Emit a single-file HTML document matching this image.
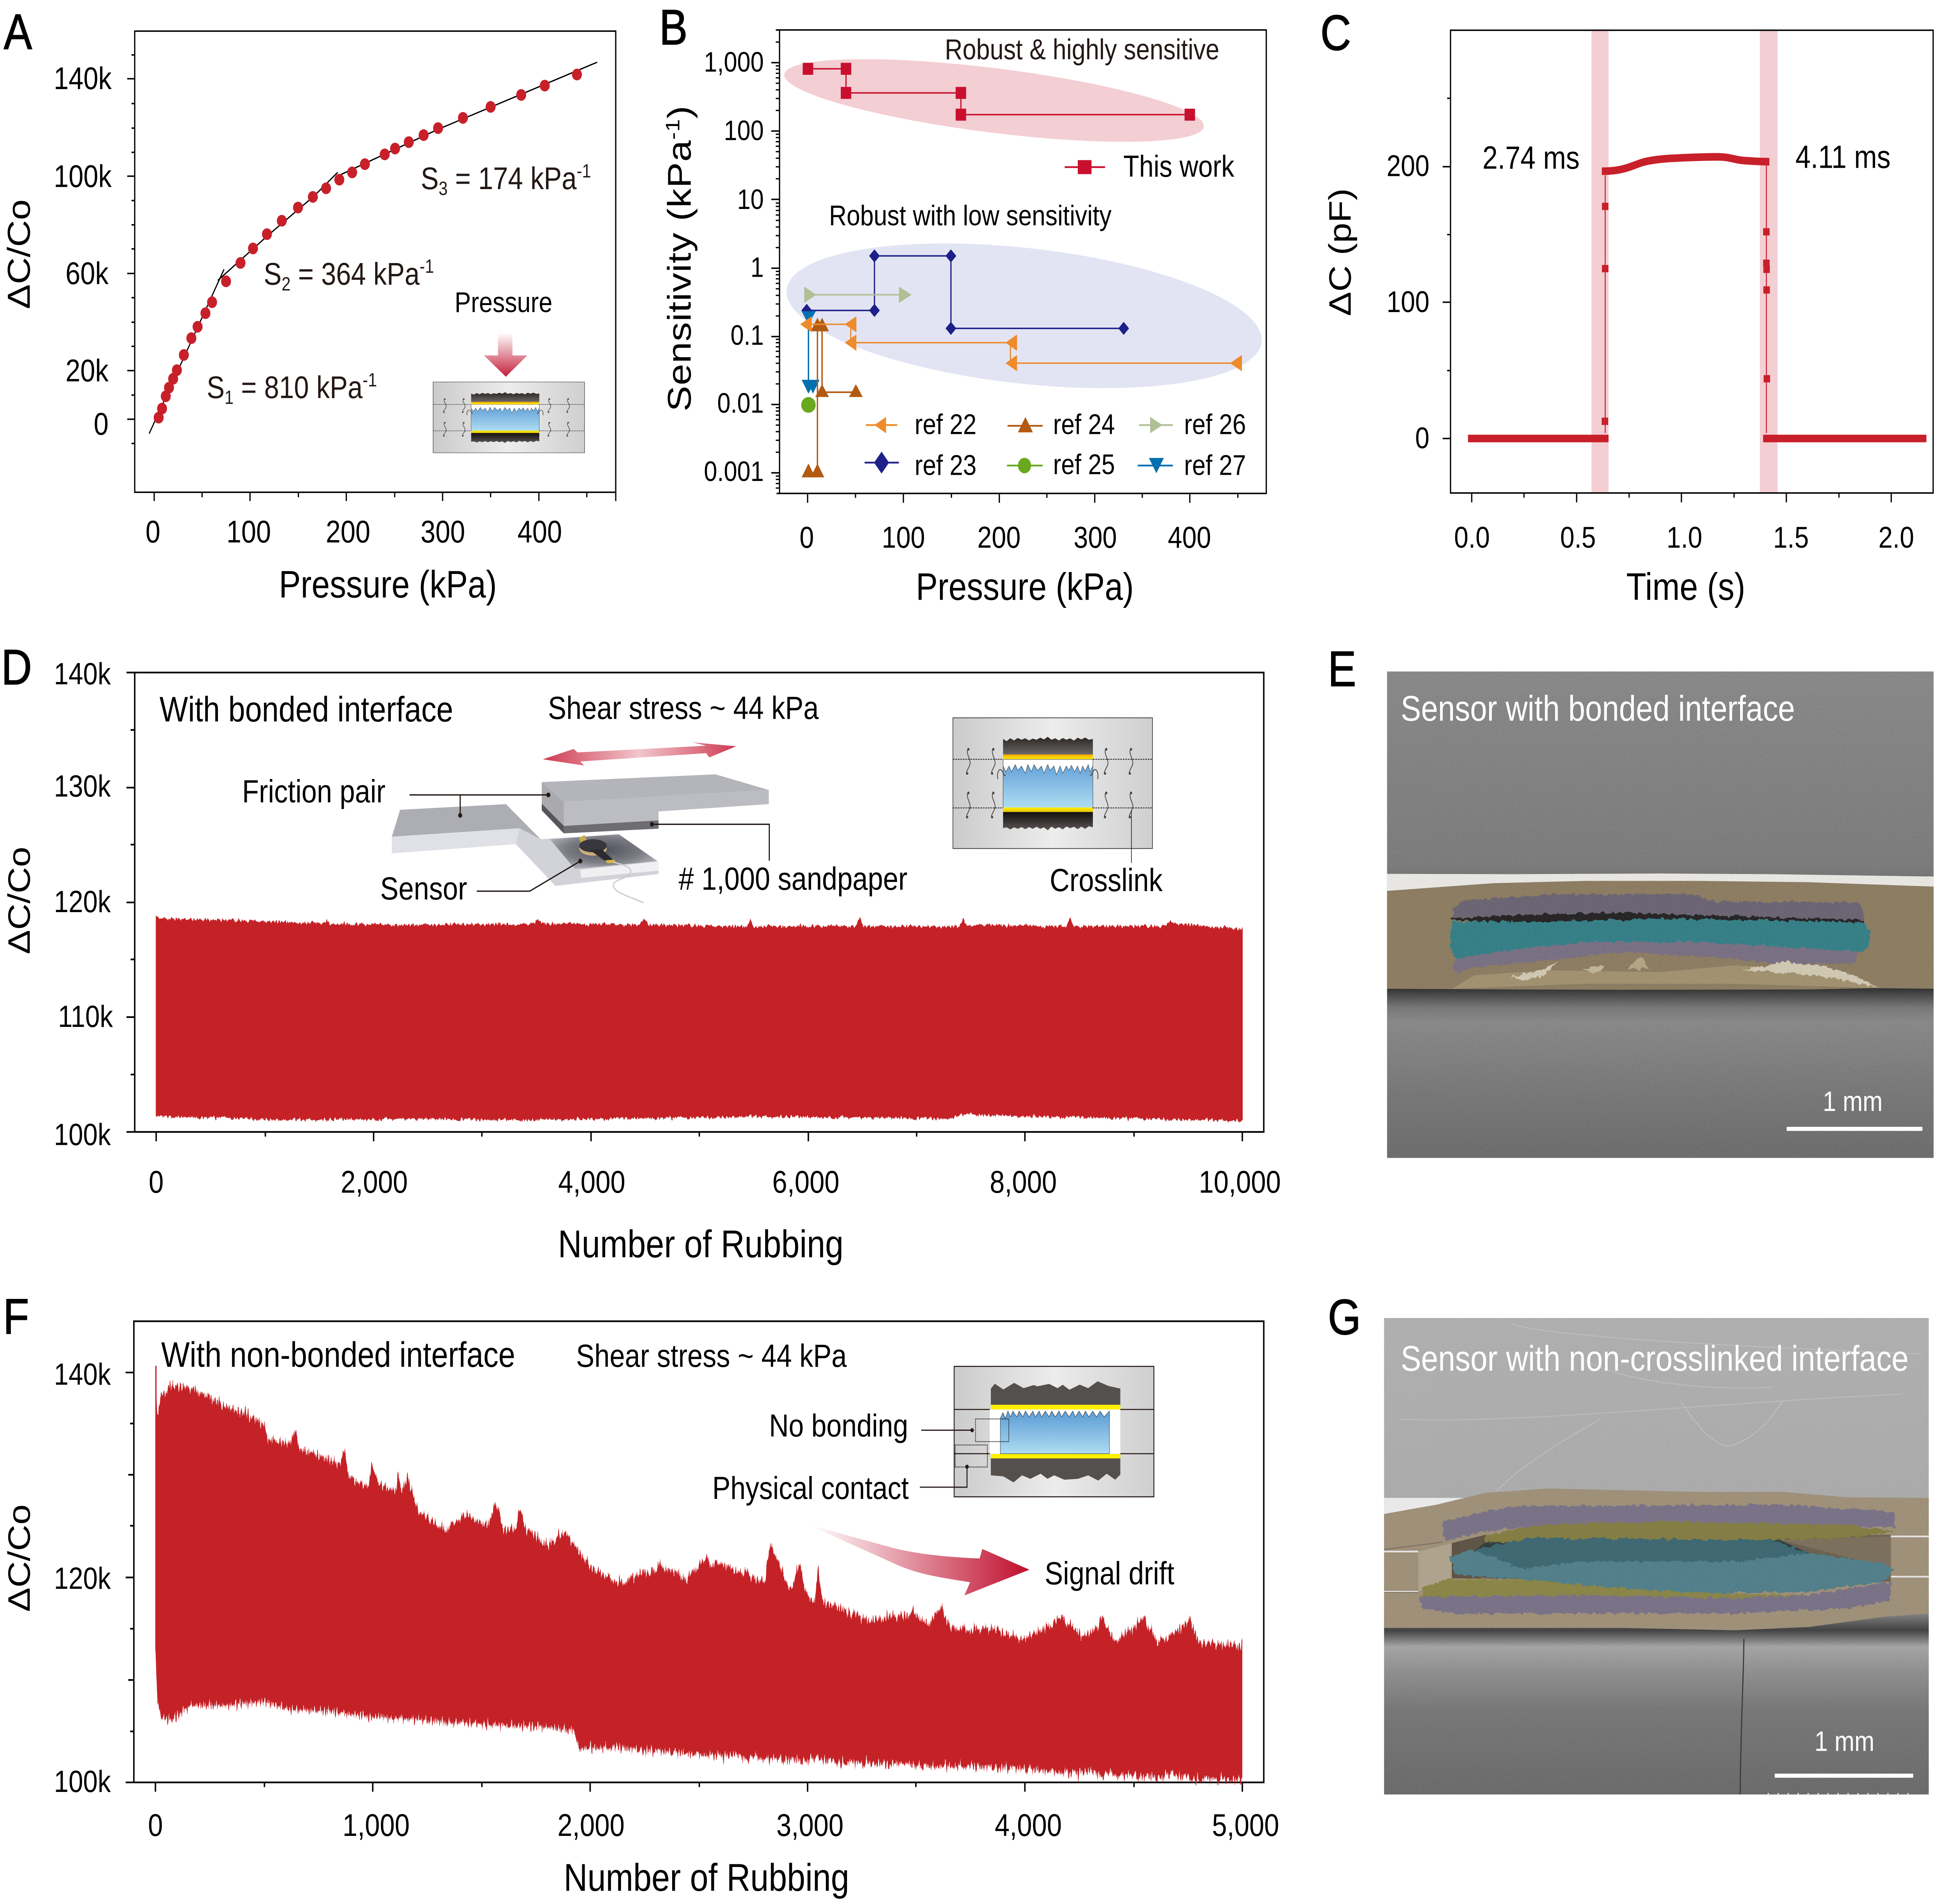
<!DOCTYPE html>
<html><head><meta charset="utf-8"><title>Sensor figure</title>
<style>html,body{margin:0;padding:0;background:#fff;overflow:hidden}svg{display:block;position:absolute;left:0;top:0;width:100vw;height:100vh}text{font-family:"Liberation Sans",sans-serif}</style></head>
<body>
<svg xmlns="http://www.w3.org/2000/svg" viewBox="0 0 1560 1303.45" preserveAspectRatio="none">
<defs>
<linearGradient id="ig"><stop offset="0" stop-color="#cbcbcb"/><stop offset=".5" stop-color="#ececec"/><stop offset="1" stop-color="#cfcfcf"/></linearGradient>
<linearGradient id="dt" x2="0" y2="1"><stop offset="0" stop-color="#2a2624"/><stop offset="1" stop-color="#6a6664"/></linearGradient>
<linearGradient id="db" x2="0" y2="1"><stop offset="0" stop-color="#141010"/><stop offset="1" stop-color="#5a5654"/></linearGradient>
<linearGradient id="yt" x2="0" y2="1"><stop offset="0" stop-color="#f5a500"/><stop offset="1" stop-color="#fff200"/></linearGradient>
<linearGradient id="yb" x2="0" y2="1"><stop offset="0" stop-color="#fff200"/><stop offset="1" stop-color="#e6c000"/></linearGradient>
<linearGradient id="bl" x2="0" y2="1"><stop offset="0" stop-color="#5b9bd5"/><stop offset="1" stop-color="#aedcf2"/></linearGradient>
<linearGradient id="pa" x2="0" y2="1"><stop offset="0" stop-color="#fff"/><stop offset="1" stop-color="#c4203c"/></linearGradient>
<linearGradient id="da"><stop offset="0" stop-color="#cf3a52"/><stop offset=".5" stop-color="#f1c6cc"/><stop offset="1" stop-color="#cf3a52"/></linearGradient>
<linearGradient id="sa" gradientUnits="userSpaceOnUse" x1="650" y1="0" x2="825" y2="0"><stop offset="0" stop-color="#fff"/><stop offset="1" stop-color="#c00f2d"/></linearGradient>
<radialGradient id="rec" cx=".5" cy=".45" r=".6"><stop offset="0" stop-color="#50505a"/><stop offset=".6" stop-color="#7c7c84"/><stop offset="1" stop-color="#b4b4bc"/></radialGradient>
<linearGradient id="ebg" x2="0" y2="1"><stop offset="0" stop-color="#8a8a8a"/><stop offset=".4" stop-color="#7c7c7c"/><stop offset=".652" stop-color="#2b2b2b"/><stop offset=".69" stop-color="#777"/><stop offset=".72" stop-color="#8a8a8a"/><stop offset=".88" stop-color="#767676"/><stop offset="1" stop-color="#6c6c6c"/></linearGradient>
<linearGradient id="gbg" x2="0" y2="1"><stop offset="0" stop-color="#b4b4b4"/><stop offset=".6" stop-color="#acacac"/><stop offset=".655" stop-color="#3e3e3e"/><stop offset=".69" stop-color="#a8a8a8"/><stop offset=".74" stop-color="#929292"/><stop offset=".82" stop-color="#787878"/><stop offset="1" stop-color="#6a6a6a"/></linearGradient>
<linearGradient id="cav" x2="1"><stop offset="0" stop-color="#5a5040"/><stop offset="1" stop-color="#6f6350"/></linearGradient>
<filter id="jagF" x="-1%" y="-3%" width="102%" height="106%" color-interpolation-filters="sRGB"><feTurbulence type="fractalNoise" baseFrequency="0.9 0.006" numOctaves="3" seed="4"/><feColorMatrix type="matrix" values="1 0 0 0 0 0 1 0 0 0 0 0 0 0 .5 0 0 0 0 1" result="n"/><feDisplacementMap in="SourceGraphic" in2="n" scale="15" xChannelSelector="B" yChannelSelector="R"/></filter>
<filter id="jagD" x="-1%" y="-3%" width="102%" height="106%" color-interpolation-filters="sRGB"><feTurbulence type="fractalNoise" baseFrequency="0.7 0.01" numOctaves="2" seed="9"/><feColorMatrix type="matrix" values="1 0 0 0 0 0 1 0 0 0 0 0 0 0 .5 0 0 0 0 1" result="n"/><feDisplacementMap in="SourceGraphic" in2="n" scale="5" xChannelSelector="B" yChannelSelector="R"/></filter>
<filter id="rough" x="-3%" y="-10%" width="106%" height="120%" color-interpolation-filters="sRGB"><feTurbulence type="fractalNoise" baseFrequency="0.25" numOctaves="3" seed="2"/><feDisplacementMap in="SourceGraphic" scale="4" xChannelSelector="R" yChannelSelector="G"/></filter>
<filter id="grain" x="0" y="0" width="100%" height="100%" color-interpolation-filters="sRGB"><feTurbulence type="fractalNoise" baseFrequency="0.9" numOctaves="2" seed="7"/><feColorMatrix type="matrix" values=".33 .33 .33 0 0 .33 .33 .33 0 0 .33 .33 .33 0 0 0 0 0 0 1"/></filter>
<clipPath id="ce"><rect x="1111.9" y="459.7" width="438.2" height="333"/></clipPath>
<clipPath id="cg"><rect x="1109.5" y="902.3" width="436.7" height="326.2"/></clipPath>
<g id="sq"><path d="M1 0c-3 4 3 8 1 12s-3 4-2 6" fill="none" stroke="#444" stroke-width=".6"/><circle cx="1" cy="1" r=".9" fill="#444"/><circle cx="0" cy="17.5" r=".9" fill="#444"/></g>
<g id="ins">
<rect width="160" height="89.5" fill="url(#ig)" stroke="#333" stroke-width=".5"/>
<polygon points="40.2,14.5 43,16 46,14 49,15.5 52,13.8 55,15 58,14 61,15.5 64,14.2 67,15 70,13.6 73,14.8 76,13 79,15 82,14 85,15.5 88,13.8 91,15 94,14 97,15.6 100,13.6 103,14.8 106,13.5 109,15 112.2,14.5 112.2,25.1 40.2,25.1" fill="url(#dt)"/>
<rect x="40.2" y="25.1" width="72" height="3.3" fill="url(#yt)"/>
<rect x="40.2" y="28.4" width="72" height="33" fill="url(#bl)"/>
<path d="M40.2 28.4H112.2V33L110 37 108.5 32 106 36.5 104 33 102 38 100 33 97.5 37 95 32.5 93 36 91 33 88 38 86 33 83 39 81 33 78 36 76 32 73 38 71 33 68 36 65 32 63 37 60 32 58 38 55 33 52 36 50 32 47 37 45 33 42.5 37 40.2 33Z" fill="#fff" stroke="#222" stroke-width=".25"/>
<rect x="40.2" y="61.4" width="72" height="3.1" fill="url(#yb)"/>
<polygon points="40.2,64.5 112.2,64.5 112.2,75 109,74.2 106,76 103,74.5 100,76.2 97,74.6 94,75.6 91,74.4 88,76.4 85,74.8 82,76 79,74.5 76,77 73,75 70,76 67,74.6 64,76 61,74.8 58,76.2 55,74.8 52,76 49,75 46,76.4 43,75 40.2,75.5" fill="url(#db)"/>
<path d="M40.2 29V62M112.2 29V62" stroke="#333" stroke-width=".3"/>
<path d="M0 28.4H40.2M112.2 28.4H160M0 61.7H40.2M112.2 61.7H160" stroke="#111" stroke-width=".55" stroke-dasharray="1.3 .7" fill="none"/>
<use href="#sq" x="11.4" y="20.6"/><use href="#sq" x="31.4" y="20.6"/><use href="#sq" x="121.9" y="20.6"/><use href="#sq" x="141.8" y="20.6"/>
<use href="#sq" x="11.4" y="50.5"/><use href="#sq" x="31.4" y="50.5"/><use href="#sq" x="121.9" y="50.5"/><use href="#sq" x="141.8" y="50.5"/>
<path d="M36 42c-1-4 1-8 3-6s2 5 3 3M116 42c1-4-1-8-3-6s-2 5-3 3" fill="none" stroke="#444" stroke-width=".6"/>
</g>
<path id="dec" d="M624.9 -14.1h-3M624.9 -22.3h-3M624.9 -28.2h-3M624.9 -32.7h-3M624.9 -36.4h-3M624.9 -39.5h-3M624.9 -42.3h-3M624.9 -44.6h-3" stroke="#000" stroke-width=".9" fill="none"/>
</defs>
<rect width="1560" height="1303.45" fill="#fff"/>

<!-- Panel letters -->
<g font-size="34" stroke="#000" stroke-width=".5" fill="#000">
<text x="3" y="33.6">A</text><text x="528.5" y="30.3">B</text><text x="1058.5" y="34.2">C</text>
<text x="1" y="468.5">D</text><text x="1064.5" y="469.6">E</text><text x="2.5" y="913">F</text><text x="1064.5" y="913.5">G</text>
</g>

<!-- ============ A ============ -->
<g fill="none" stroke="#000" stroke-width="1">
<rect x="108" y="21.3" width="385.6" height="315.7"/>
<path d="M123.6 337v6M200.4 337v6M277.6 337v6M354.8 337v6M432 337v6M493.6 337v6M162 337v3.4M239.2 337v3.4M316.4 337v3.4M393.3 337v3.4M470.4 337v3.4"/>
<path d="M108 53.9h-6M108 120.6h-6M108 187.2h-6M108 253.7h-6M108 287h-6M108 37.6h-2.6M108 70.9h-2.6M108 87.7h-2.6M108 104.3h-2.6M108 137.3h-2.6M108 153.9h-2.6M108 170.4h-2.6M108 203.8h-2.6M108 220.6h-2.6M108 237.1h-2.6M108 270.5h-2.6M108 303.6h-2.6"/>
</g>
<g font-size="21.4" text-anchor="end"><text x="89.5" y="61">140k</text><text x="89.5" y="128">100k</text><text x="87" y="194.5">60k</text><text x="87" y="261">20k</text><text x="87" y="297.5">0</text></g>
<g font-size="21.4" text-anchor="middle"><text x="122.6" y="371.4">0</text><text x="199.4" y="371.4">100</text><text x="279" y="371.4">200</text><text x="355" y="371.4">300</text><text x="432.7" y="371.4">400</text></g>
<text x="223.6" y="409" font-size="26.2">Pressure (kPa)</text>
<text transform="translate(23.9 211.6) rotate(-90)" font-size="25.5">ΔC/Co</text>
<g fill="none" stroke="#000" stroke-width=".9"><path d="M119.6 296.8L179.6 184.4"/><path d="M174.6 192L215 161L252 134L270.7 118"/><path d="M270 120.8L351 88.6L478.7 42.6"/></g>
<g fill="#c8202a">
<circle cx="127.2" cy="285.9" r="4"/><circle cx="129.9" cy="279.7" r="4"/><circle cx="132.9" cy="271.3" r="4"/><circle cx="135.5" cy="265.4" r="4"/><circle cx="138.8" cy="259.3" r="4"/><circle cx="141.8" cy="253.4" r="4"/><circle cx="147.4" cy="243" r="4"/><circle cx="153.4" cy="231.5" r="4"/><circle cx="158.4" cy="223.7" r="4"/><circle cx="164.7" cy="214.4" r="4"/><circle cx="170" cy="206.9" r="4"/><circle cx="181.2" cy="192.6" r="4"/><circle cx="192.8" cy="180" r="4"/><circle cx="202.8" cy="170.1" r="4"/><circle cx="214" cy="160.3" r="4"/><circle cx="225.9" cy="151.1" r="4"/><circle cx="238.9" cy="142.1" r="4"/><circle cx="250.8" cy="134.8" r="4"/><circle cx="261.4" cy="128.9" r="4"/><circle cx="272" cy="123" r="4"/><circle cx="282.3" cy="118" r="4"/><circle cx="292.5" cy="112.4" r="4"/><circle cx="308.4" cy="105.7" r="4"/><circle cx="316.7" cy="101.7" r="4"/><circle cx="327.7" cy="97.3" r="4"/><circle cx="339.6" cy="92.5" r="4"/><circle cx="351.2" cy="87.7" r="4"/><circle cx="371.1" cy="80.7" r="4"/><circle cx="393.3" cy="73.2" r="4"/><circle cx="417.8" cy="65" r="4"/><circle cx="436.7" cy="58.6" r="4"/><circle cx="462.5" cy="51" r="4"/>
</g>
<g font-size="21.5" fill="#231815">
<text x="165.7" y="272.5">S<tspan font-size="13" dy="4">1</tspan><tspan dy="-4"> = 810 kPa</tspan><tspan font-size="13" dy="-8">-1</tspan></text>
<text x="211.4" y="194.8">S<tspan font-size="13" dy="4">2</tspan><tspan dy="-4"> = 364 kPa</tspan><tspan font-size="13" dy="-8">-1</tspan></text>
<text x="337.3" y="129.5">S<tspan font-size="13" dy="4">3</tspan><tspan dy="-4"> = 174 kPa</tspan><tspan font-size="13" dy="-8">-1</tspan></text>
</g>
<text x="364.4" y="213.6" font-size="19.6">Pressure</text>
<polygon points="399.2,227.9 410.8,227.9 410.8,243.3 422.7,243.3 405.5,257.9 388,243.3 399.2,243.3" fill="url(#pa)"/>
<use href="#ins" transform="translate(347.2 261.5) scale(.7586 .5419)"/>

<!-- ============ B ============ -->
<ellipse cx="796.9" cy="68.8" rx="169.1" ry="22.1" transform="rotate(6.04 796.9 68.8)" fill="#f3ced3"/>
<ellipse cx="821" cy="216.2" rx="191.2" ry="46.5" transform="rotate(5.27 821 216.2)" fill="#e2e4f3"/>
<g fill="none" stroke="#000" stroke-width="1">
<path d="M622.5 20.5H1015.1V337.8H622.5M624.9 20.5V337.8"/>
<path d="M647.4 337.8v6.4M724.2 337.8v6.4M801.1 337.8v6.4M877.6 337.8v6.4M953.8 337.8v6.4M685.8 337.8v3M762.7 337.8v3M839.2 337.8v3M915.7 337.8v3M992.3 337.8v3"/>
<path d="M624.9 42.9h-6.6M624.9 89.7h-6.6M624.9 136.5h-6.6M624.9 183.6h-6.6M624.9 230.4h-6.6M624.9 276.9h-6.6M624.9 323.7h-6.6"/>
<path d="M624.9 28.8h-3M624.9 20.6h-3M624.9 325.9h-3M624.9 328.2h-3M624.9 331h-3M624.9 334.1h-3" stroke-width=".9"/>
</g>
<use href="#dec" y="89.7"/><use href="#dec" y="136.5"/><use href="#dec" y="183.6"/><use href="#dec" y="230.4"/><use href="#dec" y="276.9"/><use href="#dec" y="323.7"/>
<g font-size="19.2" text-anchor="end"><text x="612.3" y="49">1,000</text><text x="612.3" y="95.9">100</text><text x="612.3" y="143">10</text><text x="612.3" y="189.5">1</text><text x="612.3" y="236">0.1</text><text x="612.3" y="282.5">0.01</text><text x="612.3" y="329.3">0.001</text></g>
<g font-size="20.8" text-anchor="middle"><text x="646.7" y="375">0</text><text x="724.2" y="375">100</text><text x="800.8" y="375">200</text><text x="878" y="375">300</text><text x="953.5" y="375">400</text></g>
<text x="734.2" y="410.6" font-size="26.2">Pressure (kPa)</text>
<text transform="translate(553.6 281.7) rotate(-90)" font-size="26.4" letter-spacing=".35">Sensitivity (kPa<tspan font-size="15.5" dy="-9">-1</tspan><tspan dy="9">)</tspan></text>
<text x="757.4" y="40.6" font-size="19.7" fill="#231815">Robust &amp; highly sensitive</text>
<text x="664.6" y="154.2" font-size="19.5">Robust with low sensitivity</text>
<!-- this work -->
<path d="M647.7 47.1H678.2V63.6H770.3V78.5H953.8" fill="none" stroke="#c8102e" stroke-width="1"/>
<g fill="#c8102e"><rect x="643.5" y="43" width="8.4" height="8.2"/><rect x="674" y="43" width="8.4" height="8.2"/><rect x="674" y="59.5" width="8.4" height="8.2"/><rect x="766.1" y="59.5" width="8.4" height="8.2"/><rect x="766.1" y="74.4" width="8.4" height="8.2"/><rect x="949.6" y="74.4" width="8.4" height="8.2"/></g>
<path d="M853.5 114.4H885.9" stroke="#c8102e" stroke-width="1.2"/><rect x="864" y="109.6" width="11" height="9.6" fill="#c8102e"/>
<text x="900.5" y="121" font-size="20.8">This work</text>
<!-- ref 23 -->
<path d="M646.7 212.5H701V175.2H762.3V224.8H900.8" fill="none" stroke="#1d2088" stroke-width="1"/>
<g fill="#1d2088"><polygon points="646.7,208 651,212.5 646.7,217 642.4,212.5"/><polygon points="701,208 705.3,212.5 701,217 696.7,212.5"/><polygon points="701,170.7 705.3,175.2 701,179.7 696.7,175.2"/><polygon points="762.3,170.7 766.6,175.2 762.3,179.7 758,175.2"/><polygon points="762.3,220.3 766.6,224.8 762.3,229.3 758,224.8"/><polygon points="900.8,220.3 905.1,224.8 900.8,229.3 896.5,224.8"/></g>
<!-- ref 26 -->
<path d="M649.4 201.8H725.6" stroke="#b0bf96" stroke-width="1"/>
<g fill="#b0bf96"><polygon points="644.7,196.2 654.3,201.8 644.7,207.4"/><polygon points="720.6,196.2 730.8,201.8 720.6,207.4"/></g>
<!-- ref 27 -->
<path d="M648.1 217V264" stroke="#0070b0" stroke-width="1.1"/>
<g fill="#0070b0"><polygon points="642.6,213 654,213 648.1,222"/><polygon points="642.6,260 654,260 648.1,269.5"/><polygon points="646.5,260 657,260 651.7,269.5"/></g>
<!-- ref 24 -->
<path d="M655.3 323.7V222H659V268.5H686.1" fill="none" stroke="#b25a12" stroke-width="1.1"/>
<g fill="#b25a12"><polygon points="648.1,317.3 653.6,326.8 642.6,326.8"/><polygon points="655.3,317.3 660.8,326.8 649.8,326.8"/><polygon points="655.3,217.5 660.8,226.8 649.8,226.8"/><polygon points="659,217.5 664.5,226.8 653.5,226.8"/><polygon points="659,263 664.5,271.8 653.5,271.8"/><polygon points="686.1,263 691.6,271.8 680.6,271.8"/></g>
<!-- ref 22 -->
<path d="M646 222H682V234.6H810V248.6H991" fill="none" stroke="#ee8b2b" stroke-width="1"/>
<g fill="#ee8b2b"><polygon points="641.4,222 650.7,216.5 650.7,227.5"/><polygon points="677.2,222 686.5,216.5 686.5,227.5"/><polygon points="677.2,234.6 686.5,229 686.5,240.2"/><polygon points="806.1,234.6 815.3,229 815.3,240.2"/><polygon points="806.1,248.6 815.3,243 815.3,254.2"/><polygon points="986,248.6 995.6,243 995.6,254.2"/></g>
<ellipse cx="648.1" cy="277.2" rx="5.8" ry="5.4" fill="#6aa820"/>
<!-- B legend -->
<path d="M694.1 291H719.3" stroke="#ee8b2b" stroke-width="1.2"/><polygon points="701,291 710.3,285.4 710.3,296.6" fill="#ee8b2b"/>
<path d="M807.7 291.5H835.9" stroke="#b25a12" stroke-width="1.2"/><polygon points="822,285.5 828,296 816,296" fill="#b25a12"/>
<path d="M913.1 291H940.2" stroke="#b0bf96" stroke-width="1.2"/><polygon points="922,285.4 932,291 922,296.6" fill="#b0bf96"/>
<path d="M693.1 316.7H720.6" stroke="#1d2088" stroke-width="1.2"/><polygon points="706.7,309.2 712.7,316.7 706.7,324.2 700.7,316.7" fill="#1d2088"/>
<path d="M807.2 318.7H835.9" stroke="#6aa820" stroke-width="1.2"/><circle cx="821.3" cy="318.7" r="5.3" fill="#6aa820"/>
<path d="M912.1 318.7H940.2" stroke="#0070b0" stroke-width="1.2"/><polygon points="921,313.5 933,313.5 927,324" fill="#0070b0"/>
<g font-size="19.4"><text x="733.2" y="297.1">ref 22</text><text x="844.2" y="297.1">ref 24</text><text x="949.2" y="297.1">ref 26</text><text x="733.2" y="325.1">ref 23</text><text x="844.2" y="324.6">ref 25</text><text x="949.2" y="325.1">ref 27</text></g>

<!-- ============ C ============ -->
<rect x="1275.8" y="20.7" width="13.7" height="316.8" fill="#f3ced3"/><rect x="1410.8" y="20.7" width="14.2" height="316.8" fill="#f3ced3"/>
<g fill="none" stroke="#000" stroke-width="1">
<rect x="1162.8" y="20.7" width="386.9" height="316.8"/>
<path d="M1179.8 337.5v6.4M1263.9 337.5v6.4M1347.9 337.5v6.4M1432 337.5v6.4M1516.1 337.5v6.4M1221.7 337.5v3.2M1306 337.5v3.2M1390.1 337.5v3.2M1474.2 337.5v3.2"/>
<path d="M1162.8 114.1h-6.3M1162.8 206.9h-6.3M1162.8 300.2h-6.3M1162.8 67.3h-2.7M1162.8 160.6h-2.7M1162.8 253.7h-2.7"/>
</g>
<g font-size="20.6" text-anchor="middle"><text x="1180" y="375">0.0</text><text x="1265" y="375">0.5</text><text x="1350.3" y="375">1.0</text><text x="1435.7" y="375">1.5</text><text x="1520.1" y="375">2.0</text></g>
<g font-size="20.6" text-anchor="end"><text x="1145.9" y="120.5">200</text><text x="1145.9" y="213.6">100</text><text x="1145.9" y="306.9">0</text></g>
<text transform="translate(1082.8 216.4) rotate(-90)" font-size="25">ΔC (pF)</text>
<text x="1303.7" y="410.6" font-size="26.3">Time (s)</text>
<g font-size="21.9"><text x="1188.4" y="115.5">2.74 ms</text><text x="1439.3" y="115">4.11 ms</text></g>
<path d="M1286.8 120V296.5M1416 113V296.5" stroke="#c8202a" stroke-width=".8" fill="none"/>
<g fill="#c8202a"><rect x="1284.2" y="138.8" width="5.2" height="5"/><rect x="1284.2" y="181.4" width="5.2" height="5"/><rect x="1284" y="285.9" width="5.2" height="5"/><rect x="1413.4" y="156.2" width="5.2" height="5"/><rect x="1413.4" y="177.7" width="5.2" height="5"/><rect x="1413.6" y="181.9" width="5.2" height="5"/><rect x="1413.6" y="196" width="5.2" height="5"/><rect x="1413.8" y="256.8" width="5.2" height="5"/></g>
<path d="M1176.8 300.2H1289.5M1413.4 300.2H1544.3" stroke="#c8202a" stroke-width="5.2" fill="none"/>
<path d="M1284.1 117.2C1292 117.2 1298 116.6 1305 114.7S1315 111.2 1321.4 110.2S1332 108.8 1338 108.5S1368 107.2 1377.9 107.4S1390 109.4 1397.8 109.9S1412 110.7 1418.4 110.7" stroke="#c8202a" stroke-width="5.2" fill="none"/>

<!-- ============ D ============ -->
<g fill="none" stroke="#000" stroke-width="1.15">
<rect x="108" y="460.4" width="905.1" height="314.5"/>
<path d="M108 460.4h-6.6M108 539.2h-6.6M108 617.8h-6.6M108 696.3h-6.6M108 774.9h-6.6M108 499.7h-3.3M108 578.2h-3.3M108 656.8h-3.3M108 735.6h-3.3"/>
<path d="M125.2 774.9v6.4M299.5 774.9v6.4M473.8 774.9v6.4M648 774.9v6.4M821.6 774.9v6.4M995.9 774.9v6.4M212.7 774.9v3.2M386.3 774.9v3.2M560.6 774.9v3.2M734.8 774.9v3.2M909.1 774.9v3.2"/>
</g>
<g font-size="21" text-anchor="end"><text x="88.8" y="468.5">140k</text><text x="88.8" y="545.3">130k</text><text x="88.8" y="624.4">120k</text><text x="90.5" y="703">110k</text><text x="88.8" y="783.8">100k</text></g>
<g font-size="21.5" text-anchor="middle"><text x="125.2" y="816.5">0</text><text x="300" y="816.5">2,000</text><text x="474.4" y="816.5">4,000</text><text x="646" y="816.5">6,000</text><text x="820.3" y="816.5">8,000</text><text x="993.9" y="816.5">10,000</text></g>
<text x="447.3" y="860.7" font-size="26.4">Number of Rubbing</text>
<text transform="translate(23.9 653.3) rotate(-90)" font-size="25">ΔC/Co</text>
<path filter="url(#jagD)" fill="#c42227" d="M125.2 628.2L150 629.3L198.8 630.2L260 632L261.7 629.5L265 632.5L331 633.1L428 632.5L431.3 629L434 632.2L513 633L516.2 628.5L519.5 633L596 634.2L599 634.2L601.6 629L604 634.1L662.6 634L686 633.8L689.1 627.5L692 634L762 634.4L769 634.4L771.9 629L775 633L855 634.3L858 628.5L861 634L928 634L935 633.8L938.3 629.5L941 632L955 633L995.9 636V767.4L900 765.5L800 764L775 762.5L760 765.8L650 764.8L600 764.5L480 766L430 766.8L330 766L230 766.8L180 765.2L125.2 764.5Z"/>
<path d="M125.2 627v137M995.9 635v132" stroke="#c42227" stroke-width=".6"/>
<text x="127.9" y="493.9" font-size="24.2">With bonded interface</text>
<text x="439.3" y="492.2" font-size="22">Shear stress ~ 44 kPa</text>
<polygon points="435.2,519.8 459.9,512.7 463,515.1 566,510.5 555.3,508.2 590.2,510.9 568.6,518.5 566,515.6 465.2,521.3 468.3,524.1" fill="url(#da)"/>
<!-- lower block -->
<polygon points="413.5,577.9 445.3,606.5 527.9,598.3 527.9,590.2 496.1,571.1 433.4,574.5 416.6,567" fill="#d2d2d9"/>
<polygon points="320.7,554.4 405.6,550.5 433.4,574.5 416.6,567 314.1,572.8" fill="#adadb4"/>
<polygon points="314.1,572.8 416.6,567 413.5,577.9 314.1,584.2" fill="#e0e0e7"/>
<polygon points="440.9,574.5 496.1,571.1 527,589.5 460.8,594.9" fill="url(#rec)"/>
<polygon points="465,595.5 527.9,589.8 527.9,596 466,601" fill="#f0f0f2"/>
<rect x="464.5" y="572.5" width="5" height="4" fill="#c8aa50" transform="rotate(-25 467 574)"/>
<ellipse cx="475.4" cy="581" rx="11" ry="4.8" fill="#c9ad7a"/>
<ellipse cx="475.4" cy="579" rx="11" ry="4.5" fill="#37373d"/>
<polygon points="473,582 482,581 492,589 486,590" fill="#2b2b30"/>
<polygon points="485,589 492,588.5 494,590.5 487,591" fill="#d8b840"/>
<path d="M491.7 590.2C500 592 508 594 505 598S491 602 491.7 606.5S505 614 516 618" fill="none" stroke="#ccc" stroke-width=".9"/>
<!-- upper block -->
<polygon points="434.3,535.4 573.5,530.1 616.3,540.8 452,549" fill="#b4b4bb"/>
<polygon points="452,549 616.3,540.8 616.3,550.5 527.9,555.5 527.9,561.6 452,565.4" fill="#bcbcc3"/>
<polygon points="434.3,535.4 452,549 452,565.4 434.3,550.1" fill="#a9a9ae"/>
<polygon points="452,565.4 527.9,561.6 527.9,567.3 452,570.5" fill="#6d6d72"/>
<polygon points="434.3,550.1 452,565.4 452,570.5 434.3,554.8" fill="#55555a"/>
<!-- leaders -->
<g fill="none" stroke="#231815" stroke-width=".9"><path d="M328.3 544.2H439.6M368.9 544.2V558.2M522.6 564.3H616.7V589.2M382.2 610.1H424.6L465.2 589.5"/></g>
<g fill="#231815"><circle cx="439.6" cy="544.2" r="1.6"/><circle cx="368.9" cy="558.2" r="1.6"/><circle cx="522.6" cy="564.3" r="1.6"/><circle cx="465.2" cy="589.5" r="1.6"/></g>
<g font-size="22"><text x="194.1" y="549.3">Friction pair</text><text x="304.8" y="615.8">Sensor</text><text x="544" y="609.1"># 1,000 sandpaper</text><text x="841.5" y="610">Crosslink</text></g>
<use href="#ins" transform="translate(763.9 491.4)"/>
<path d="M907 554.8V590.8" stroke="#231815" stroke-width=".5"/>

<!-- ============ E ============ -->
<g clip-path="url(#ce)">
<g transform="translate(1092.2 447.5) scale(.2983 .2294)">
<rect x="66" y="53" width="1469" height="1452" fill="url(#ebg)"/>
<polygon points="66,657 400,658 800,656 1100,658 1535,665 1535,700 1200,685 900,682 600,682 350,690 66,712" fill="#f4f2ee"/>
<polygon points="66,708 350,685 600,678 900,678 1200,682 1535,695 1535,1000 1380,998 1200,1002 700,1003 400,1002 66,1000" fill="#8e7d60"/>
<polygon points="240,1000 300,960 500,945 800,950 1000,930 1300,950 1390,998 1000,985 600,985" fill="#a6946f"/>
</g>
<g filter="url(#rough)"><g transform="translate(1092.2 447.5) scale(.2983 .2294)">
<polygon points="245,760 270,737 500,718 880,718 950,740 1225,740 1335,745 1350,770 1345,795 1000,790 600,775 300,785 240,790" fill="#6a6373"/>
<polygon points="250,910 400,885 600,860 900,860 1200,880 1330,890 1325,925 1100,925 1000,910 700,890 500,915 300,935 255,955 243,930" fill="#7a6f85"/>
<polygon points="240,790 400,780 700,772 900,780 1345,795 1345,802 800,800 400,805 240,795" fill="#1e1c1c"/>
<polygon points="240,800 500,800 800,790 1345,802 1365,830 1360,870 1340,890 1200,880 900,860 600,860 400,885 250,910 235,880" fill="#2f8089"/>
<polygon points="1020,945 1130,920 1250,935 1330,965 1385,995 1250,965 1120,950" fill="#d8d0b8"/>
<polygon points="400,965 480,945 525,918 490,960 430,975" fill="#d8d0b8"/>
<polygon points="590,945 650,925 640,950" fill="#c8bc9c"/><polygon points="710,940 750,905 770,940" fill="#b8aa88"/>
</g></g>
<rect x="1111.9" y="459.7" width="438.2" height="333" filter="url(#grain)" opacity=".1"/>
</g>
<text x="1122.9" y="493.4" font-size="24.4" fill="#fff">Sensor with bonded interface</text>
<text x="1461.2" y="760.6" font-size="19.2" fill="#fff">1 mm</text>
<rect x="1432.3" y="771.4" width="108.8" height="2.8" fill="#fff"/>

<!-- ============ F ============ -->
<g fill="none" stroke="#000" stroke-width="1.15">
<rect x="107.3" y="904.5" width="905.8" height="315.7"/>
<path d="M107.3 939.6h-6.6M107.3 1079.9h-6.6M107.3 1220.2h-6.6M107.3 1009.6h-4.5M107.3 1150.1h-4.5M107.3 974.5h-3M107.3 1044.5h-3M107.3 1115h-3M107.3 1185.3h-3"/>
<path d="M124.6 1220.2v6.4M298.8 1220.2v6.4M473.1 1220.2v6.4M647.4 1220.2v6.4M821.6 1220.2v6.4M995.9 1220.2v6.4M212 1220.2v3.2M386.3 1220.2v3.2M560.6 1220.2v3.2M734.2 1220.2v3.2M909.1 1220.2v3.2"/>
</g>
<g font-size="21" text-anchor="end"><text x="88.8" y="948">140k</text><text x="88.8" y="1087.7">120k</text><text x="88.8" y="1226.7">100k</text></g>
<g font-size="21.5" text-anchor="middle"><text x="124.6" y="1256.9">0</text><text x="301.5" y="1256.9">1,000</text><text x="473.8" y="1256.9">2,000</text><text x="649.3" y="1256.9">3,000</text><text x="824.3" y="1256.9">4,000</text><text x="998.5" y="1256.9">5,000</text></g>
<text x="451.9" y="1294.4" font-size="26.4">Number of Rubbing</text>
<text transform="translate(23.9 1103.5) rotate(-90)" font-size="25">ΔC/Co</text>
<path filter="url(#jagF)" fill="#c42227" d="M124.6 934.4L125.9 968.4L129.2 955.3L135.8 948.8L149.1 948.8L162.3 954L178.9 961.9L198.8 968.4L212 976.3L215.3 985.5L231.9 988.1L237.2 980.2L239.9 992L255.1 996L273 1002.5L275.6 990.7L279.6 1010.4L294.9 1018.3L298.2 1002.5L303.5 1015.6L316.7 1020.9L319.4 1009.1L322 1020.9L326.7 1010.4L334.6 1034L357.8 1047.1L374.4 1035.3L390.9 1044.5L397.6 1027.4L402.9 1047.1L414.1 1047.1L416.1 1032.7L422.1 1047.1L437.3 1057.6L453.9 1048.4L463.8 1062.8L477.1 1075.9L500.3 1083.8L530.1 1070.7L550 1081.2L563.2 1068.1L596.3 1075.9L612.9 1083.8L617.5 1057.6L626.2 1073.3L632.8 1089L641.4 1069.4L646 1091.7L653.3 1094.3L656 1072L659.3 1094.3L675.9 1102.2L699 1110L732.2 1103.5L745.4 1112.7L754 1099.5L762 1115.3L795.1 1115.3L821.6 1121.8L851.5 1107.4L868 1120.5L884.6 1108.7L894.5 1124.4L917.7 1107.4L927.6 1124.4L954.1 1108.7L960.8 1124.4L995.9 1127.1V1218.8L927.6 1216.2L861.4 1213.6L795.1 1209.7L728.9 1208.4L662.6 1205.7L596.3 1203.1L530.1 1199.2L497 1196.5L463.8 1196.5L460.5 1184.8L430.7 1182.1L397.6 1180.8L364.4 1179.5L331.3 1176.9L298.2 1175.6L265 1171.6L231.9 1170.3L212 1165.1L178.9 1167.7L152.4 1167.7L137.8 1177.7L129.2 1175.6L125.9 1162.5L124.6 1128.4Z"/>
<path d="M125 935V1130" stroke="#c42227" stroke-width="1"/>
<text x="129.2" y="935.7" font-size="24.2">With non-bonded interface</text>
<text x="461.8" y="935.7" font-size="22">Shear stress ~ 44 kPa</text>
<rect x="764.9" y="935.4" width="160.1" height="89.3" fill="url(#ig)" stroke="#231815" stroke-width=".7"/>
<polygon points="794.3,950.6 797.5,947.3 804.3,951.2 813,946.7 820.6,950.3 828.8,948.2 831.5,949.1 841,947.4 847.8,950.3 851.9,948 857.3,951.4 865.5,947.9 872.3,950.3 879.9,945.6 888.6,948.8 898.1,950.6 898.1,961.7 794.3,961.7" fill="#54504e"/>
<rect x="794.3" y="961.7" width="103.8" height="3.2" fill="#fff000"/>
<rect x="793.4" y="965" width="104.7" height="30.2" fill="#fff"/>
<path d="M801.9 995.2V971L804 967 806 971 808 966 810 970 812 966 815 970 817 966 820 970 822 966 825 970 828 966 830 970 833 966 835 970 838 966 841 970 843 966 846 970 849 966 851 970 854 966 857 970 860 966 862 970 865 966 868 970 870 966 873 970 876 966 879 970 882 966 885 970 889.4 966V995.2Z" fill="url(#bl)" stroke="#333" stroke-width=".3"/>
<path d="M764.9 964.9H793.4M898.1 964.9H925M764.9 995.2H793.4M898.1 995.2H925" stroke="#231815" stroke-width=".7"/>
<rect x="794.3" y="995.4" width="103.8" height="3" fill="#fff000"/>
<polygon points="794.3,998.4 898.1,998.4 898.1,1009.5 894,1013 887.2,1008.9 880.4,1013.6 872.3,1010 864.1,1012.4 853.2,1013 845.1,1010 839.7,1012.4 834.2,1008.9 826,1012.4 819.3,1010 812.5,1014.8 804.3,1010.7 794.3,1010" fill="#54504e"/>
<rect x="782" y="971.4" width="26.7" height="15.5" fill="none" stroke="#222" stroke-width=".6" stroke-dasharray=".7 .4"/>
<rect x="765.7" y="989.2" width="25.8" height="15.1" fill="none" stroke="#222" stroke-width=".6" stroke-dasharray=".7 .4"/>
<path d="M738.5 979.1H779.3M737.4 1018.1H775.2V1004.1" fill="none" stroke="#231815" stroke-width=".8"/>
<circle cx="779.3" cy="979.1" r="1.4" fill="#231815"/><circle cx="775.2" cy="1004.1" r="1.4" fill="#231815"/>
<g font-size="21.8" text-anchor="end"><text x="728" y="983.4">No bonding</text><text x="728.5" y="1026.1">Physical contact</text></g>
<path d="M646.7 1043.4L714.6 1059.4C735 1064 760 1066 785.3 1066.9L787.5 1060.4L825.2 1074.6L773.1 1092.2L777.7 1083.2C755 1080 735 1078 714.6 1069.5Z" fill="url(#sa)"/>
<text x="837.5" y="1084.6" font-size="22">Signal drift</text>

<!-- ============ G ============ -->
<g clip-path="url(#cg)">
<g transform="translate(1092.2 892.4) scale(.2983 .2294)">
<rect x="58" y="43" width="1464" height="1422" fill="url(#gbg)"/>
<g fill="none" stroke="#c9c9c9" stroke-width="3" opacity=".7"><path d="M400 60C470 90 800 120 1500 150M100 345C400 360 900 300 1450 270M360 560C430 480 550 400 640 345M855 290C900 370 950 430 990 425C1060 400 1100 340 1130 290M600 170C700 230 900 260 1100 250"/></g>
<polygon points="58,580 330,580 200,600 58,628" fill="#f2f2f2"/>
<polygon points="58,628 200,600 330,565 500,552 900,562 1130,562 1300,578 1522,580 1522,925 1400,935 1200,965 1000,975 700,968 400,968 58,968" fill="#a29279"/>
<polygon points="150,740 330,690 1420,690 1420,830 240,820 150,860" fill="url(#cav)"/>
<polygon points="150,740 240,715 240,820 150,860" fill="#b4a78f"/>
<polygon points="1420,790 1120,705 1420,695" fill="#7c6f5b"/>
<polygon points="330,712 1120,705 1200,745 1000,750 300,740" fill="#2d3b3b"/>
<path d="M58 740H150M58 860H150M1420 695H1522M1420 815H1522" stroke="#ececec" stroke-width="5" fill="none"/>
<path d="M58 734L215 712M58 862H150" stroke="#6d6150" stroke-width="2" fill="none"/>
<path d="M1025 1000C1025 1100 1018 1200 1015 1465" stroke="#333" stroke-width="3" fill="none"/>
</g>
<g filter="url(#rough)"><g transform="translate(1092.2 892.4) scale(.2983 .2294)">
<polygon points="330,690 500,655 800,648 1300,658 1430,680 1300,700 1000,708 330,712" fill="#857e3f"/>
<polygon points="215,650 400,605 1130,600 1430,622 1430,670 1300,660 1000,655 800,650 500,660 330,680 220,708" fill="#7a7288"/>
<polygon points="160,850 230,820 450,825 700,850 950,865 1200,870 1000,885 600,875 160,875" fill="#8c8645"/>
<polygon points="155,875 600,870 1000,880 1190,870 1420,830 1418,885 1300,910 1000,925 700,925 250,925 160,910" fill="#7a7288"/>
<polygon points="235,755 300,735 450,700 1100,705 1200,745 1400,775 1430,795 1400,830 1200,860 950,865 700,850 450,825 250,810" fill="#4f808b"/>
<polygon points="300,735 450,700 1100,705 1200,745 1000,770 600,770 420,790" fill="#3a6772"/>
</g></g>
<rect x="1109.5" y="902.3" width="436.7" height="326.2" filter="url(#grain)" opacity=".08"/>
</g>
<text x="1122.9" y="938.3" font-size="24.5" fill="#fff">Sensor with non-crosslinked interface</text>
<text x="1454.6" y="1198.6" font-size="19.2" fill="#fff">1 mm</text>
<rect x="1422.7" y="1214.2" width="111" height="2.8" fill="#fff"/>
<path d="M1417 1227.9H1536" stroke="#fff" stroke-width=".8" stroke-dasharray="1 7"/>
</svg>
</body></html>
